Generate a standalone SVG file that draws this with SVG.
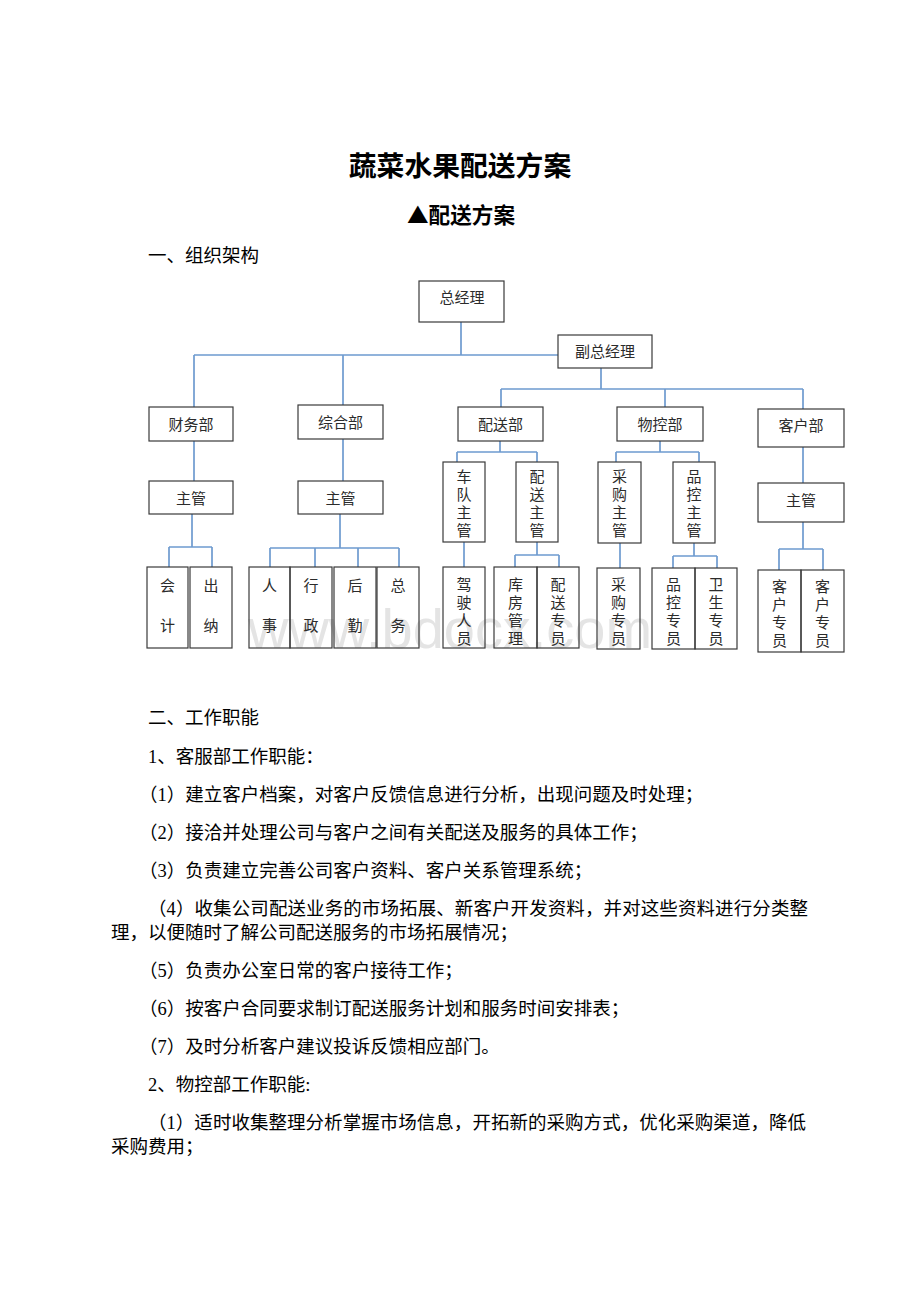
<svg xmlns="http://www.w3.org/2000/svg" width="920" height="1302" viewBox="0 0 920 1302">
<style>
.box{fill:none;stroke:#3a3a3a;stroke-width:1.2}
.lbl{font-family:"Noto Sans CJK SC",sans-serif;font-size:15px;fill:#2b2b2b;text-anchor:middle}
.conn{fill:none;stroke:#6e9bcf;stroke-width:1.7}
.body{font-family:"Liberation Serif","Noto Sans CJK SC",serif;font-size:18.5px;fill:#000}
.title{font-family:"Noto Sans CJK SC",sans-serif;fill:#000;text-anchor:middle;font-weight:bold}
.wm{font-family:"Liberation Sans",sans-serif;font-size:56px;fill:#e4e4e4}
</style>
<rect width="920" height="1302" fill="#fff"/>
<text class="title" x="460" y="176" font-size="27.8">蔬菜水果配送方案</text>
<text class="title" x="461" y="223" font-size="21.6">▲配送方案</text>
<text class="body" x="148" y="262">一、组织架构</text>

<text class="wm" x="248" y="648" textLength="404" lengthAdjust="spacingAndGlyphs">www.bdocx.com</text>

<g id="connectors">
<path class="conn" d="M461 322V355M194 355H558M194 355V407M343 355V405"/>
<path class="conn" d="M601 368V389M501 389H803M501 389V407M665 389V407M803 389V409"/>
<path class="conn" d="M194 441V481M192 514V547M169 547H212M169 547V567M212 547V567"/>
<path class="conn" d="M343 439V481M340 514V548M270 548H399M270 548V567M315 548V567M358 548V567M399 548V567"/>
<path class="conn" d="M500 441V452M457 452H537M457 452V462M537 452V462M464 542V567M537 542V555M515 555H559M515 555V567M559 555V567"/>
<path class="conn" d="M660 441V452M616 452H699M616 452V462M699 452V462M620 543V568M694 543V556M673 556H717M673 556V568M717 556V568"/>
<path class="conn" d="M803 447V483M803 522V549M779 549H823M779 549V570M823 549V570"/>
</g>

<g id="n-zongjingli"><rect class="box" x="419" y="281" width="85" height="41"/><text class="lbl" x="462" y="303">总经理</text></g>
<g id="n-fuzong"><rect class="box" x="558" y="335" width="94" height="33"/><text class="lbl" x="605" y="357">副总经理</text></g>
<g id="n-caiwu"><rect class="box" x="149" y="407" width="84" height="34"/><text class="lbl" x="191" y="429.5">财务部</text></g>
<g id="n-zonghe"><rect class="box" x="298" y="405" width="85" height="34"/><text class="lbl" x="340.5" y="427.5">综合部</text></g>
<g id="n-peisong"><rect class="box" x="458" y="407" width="85" height="34"/><text class="lbl" x="500.5" y="429.5">配送部</text></g>
<g id="n-wukong"><rect class="box" x="617" y="407" width="86" height="34"/><text class="lbl" x="660" y="429.5">物控部</text></g>
<g id="n-kehu"><rect class="box" x="758" y="409" width="86" height="38"/><text class="lbl" x="801" y="431">客户部</text></g>

<g id="n-caiwu-zg"><rect class="box" x="149" y="481" width="84" height="33"/><text class="lbl" x="191" y="503.5">主管</text></g>
<g id="n-zonghe-zg"><rect class="box" x="298" y="481" width="85" height="33"/><text class="lbl" x="340.5" y="503.5">主管</text></g>
<g id="n-kehu-zg"><rect class="box" x="758" y="483" width="86" height="39"/><text class="lbl" x="801" y="506">主管</text></g>

<g id="n-chedui"><rect class="box" x="443" y="462" width="42" height="80"/><text class="lbl"><tspan x="464" y="481.5">车</tspan><tspan x="464" y="499.5">队</tspan><tspan x="464" y="517.5">主</tspan><tspan x="464" y="535.5">管</tspan></text></g>
<g id="n-peisong-zg"><rect class="box" x="516" y="462" width="42" height="80"/><text class="lbl"><tspan x="537" y="481.5">配</tspan><tspan x="537" y="499.5">送</tspan><tspan x="537" y="517.5">主</tspan><tspan x="537" y="535.5">管</tspan></text></g>
<g id="n-caigou-zg"><rect class="box" x="598" y="462" width="43" height="81"/><text class="lbl"><tspan x="619.5" y="481.5">采</tspan><tspan x="619.5" y="499.5">购</tspan><tspan x="619.5" y="517.5">主</tspan><tspan x="619.5" y="535.5">管</tspan></text></g>
<g id="n-pinkong-zg"><rect class="box" x="673" y="462" width="42" height="81"/><text class="lbl"><tspan x="694" y="481.5">品</tspan><tspan x="694" y="499.5">控</tspan><tspan x="694" y="517.5">主</tspan><tspan x="694" y="535.5">管</tspan></text></g>

<g id="n-kuaiji"><rect class="box" x="147" y="567" width="41" height="81"/><text class="lbl"><tspan x="167.5" y="590.5">会</tspan><tspan x="167.5" y="631">计</tspan></text></g>
<g id="n-chuna"><rect class="box" x="190" y="567" width="42" height="81"/><text class="lbl"><tspan x="211" y="590.5">出</tspan><tspan x="211" y="631">纳</tspan></text></g>
<g id="n-renshi"><rect class="box" x="249" y="567" width="41" height="81"/><text class="lbl"><tspan x="269.5" y="590.5">人</tspan><tspan x="269.5" y="631">事</tspan></text></g>
<g id="n-xingzheng"><rect class="box" x="290" y="567" width="42" height="81"/><text class="lbl"><tspan x="311" y="590.5">行</tspan><tspan x="311" y="631">政</tspan></text></g>
<g id="n-houqin"><rect class="box" x="334" y="567" width="42" height="81"/><text class="lbl"><tspan x="355" y="590.5">后</tspan><tspan x="355" y="631">勤</tspan></text></g>
<g id="n-zongwu"><rect class="box" x="377" y="567" width="42" height="81"/><text class="lbl"><tspan x="398" y="590.5">总</tspan><tspan x="398" y="631">务</tspan></text></g>

<g id="n-jiashi"><rect class="box" x="443" y="567" width="42" height="81"/><text class="lbl"><tspan x="464" y="589.5">驾</tspan><tspan x="464" y="607.5">驶</tspan><tspan x="464" y="625.5">人</tspan><tspan x="464" y="643.5">员</tspan></text></g>
<g id="n-kufang"><rect class="box" x="494" y="567" width="43" height="81"/><text class="lbl"><tspan x="515.5" y="589.5">库</tspan><tspan x="515.5" y="607.5">房</tspan><tspan x="515.5" y="625.5">管</tspan><tspan x="515.5" y="643.5">理</tspan></text></g>
<g id="n-peisong-zy"><rect class="box" x="537" y="567" width="42" height="81"/><text class="lbl"><tspan x="558" y="589.5">配</tspan><tspan x="558" y="607.5">送</tspan><tspan x="558" y="625.5">专</tspan><tspan x="558" y="643.5">员</tspan></text></g>
<g id="n-caigou-zy"><rect class="box" x="597" y="568" width="43" height="81"/><text class="lbl"><tspan x="618.5" y="590">采</tspan><tspan x="618.5" y="608">购</tspan><tspan x="618.5" y="626">专</tspan><tspan x="618.5" y="644">员</tspan></text></g>
<g id="n-pinkong-zy"><rect class="box" x="652" y="568" width="43" height="81"/><text class="lbl"><tspan x="673.5" y="590">品</tspan><tspan x="673.5" y="608">控</tspan><tspan x="673.5" y="626">专</tspan><tspan x="673.5" y="644">员</tspan></text></g>
<g id="n-weisheng"><rect class="box" x="695" y="568" width="42" height="81"/><text class="lbl"><tspan x="716" y="590">卫</tspan><tspan x="716" y="608">生</tspan><tspan x="716" y="626">专</tspan><tspan x="716" y="644">员</tspan></text></g>
<g id="n-kehu-zy1"><rect class="box" x="758" y="570" width="43" height="82"/><text class="lbl"><tspan x="779.5" y="591.5">客</tspan><tspan x="779.5" y="609.5">户</tspan><tspan x="779.5" y="627.5">专</tspan><tspan x="779.5" y="645.5">员</tspan></text></g>
<g id="n-kehu-zy2"><rect class="box" x="801" y="570" width="43" height="82"/><text class="lbl"><tspan x="822.5" y="591.5">客</tspan><tspan x="822.5" y="609.5">户</tspan><tspan x="822.5" y="627.5">专</tspan><tspan x="822.5" y="645.5">员</tspan></text></g>

<g id="body-text">
<text class="body" x="148" y="724">二、工作职能</text>
<text class="body" x="148" y="763">1、客服部工作职能：</text>
<text class="body" x="139" y="801">（1）建立客户档案，对客户反馈信息进行分析，出现问题及时处理；</text>
<text class="body" x="139" y="839">（2）接洽并处理公司与客户之间有关配送及服务的具体工作；</text>
<text class="body" x="139" y="877">（3）负责建立完善公司客户资料、客户关系管理系统；</text>
<text class="body" x="148" y="915" textLength="660" lengthAdjust="spacing">（4）收集公司配送业务的市场拓展、新客户开发资料，并对这些资料进行分类整</text>
<text class="body" x="111" y="939">理，以便随时了解公司配送服务的市场拓展情况；</text>
<text class="body" x="139" y="977">（5）负责办公室日常的客户接待工作；</text>
<text class="body" x="139" y="1015">（6）按客户合同要求制订配送服务计划和服务时间安排表；</text>
<text class="body" x="139" y="1053">（7）及时分析客户建议投诉反馈相应部门。</text>
<text class="body" x="148" y="1091">2、物控部工作职能:</text>
<text class="body" x="148" y="1129" textLength="658" lengthAdjust="spacing">（1）适时收集整理分析掌握市场信息，开拓新的采购方式，优化采购渠道，降低</text>
<text class="body" x="111" y="1153">采购费用；</text>
</g>
</svg>
